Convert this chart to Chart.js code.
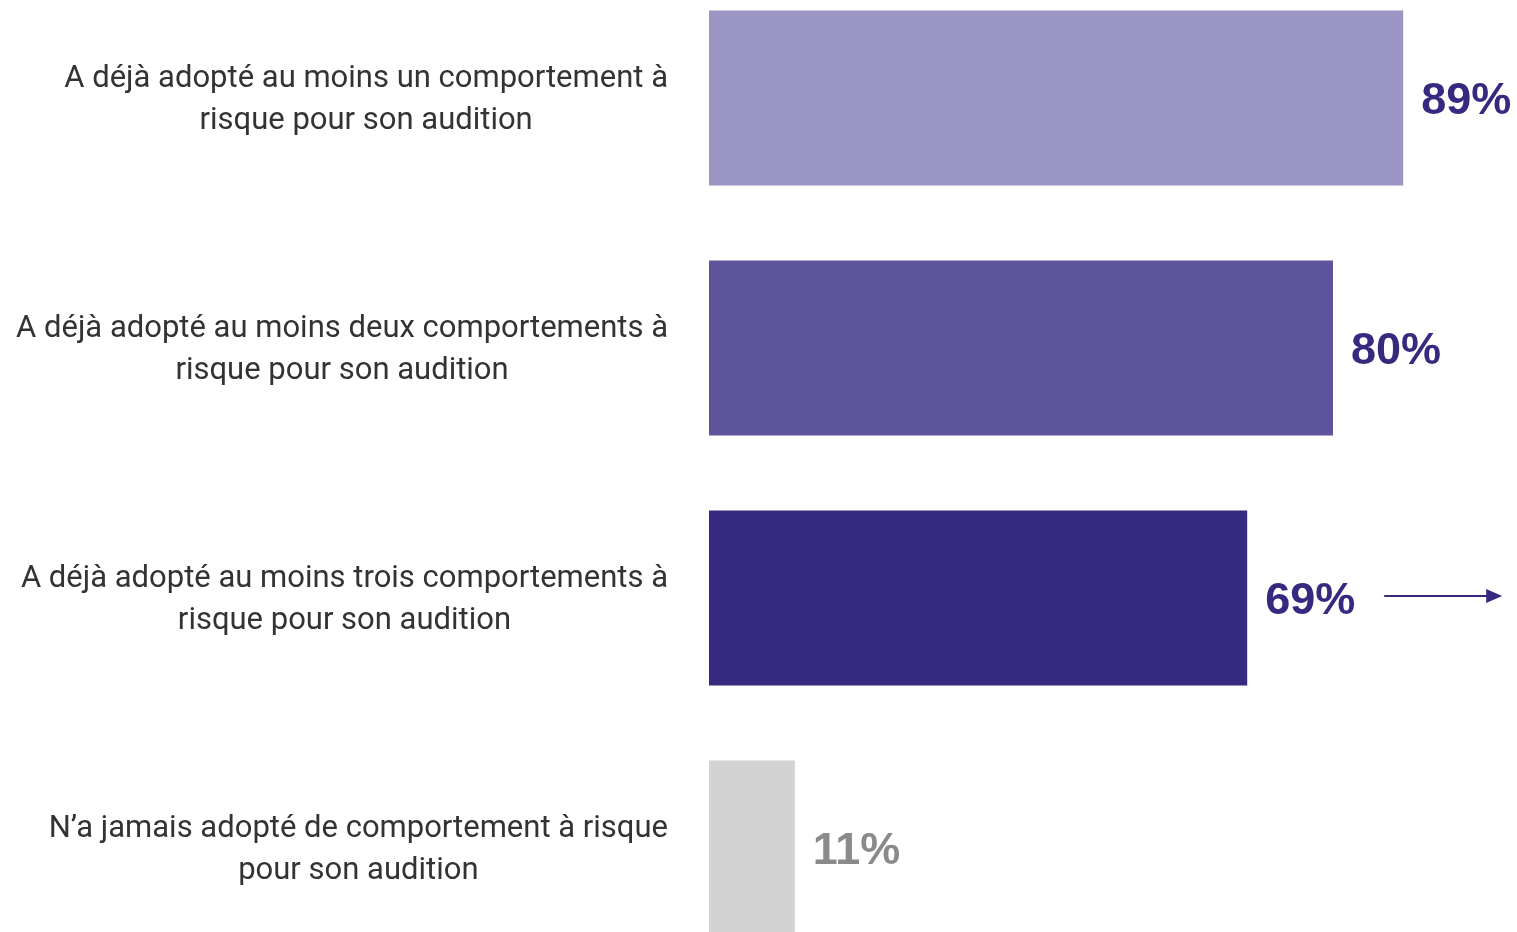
<!DOCTYPE html>
<html>
<head>
<meta charset="utf-8">
<script src="https://cdn.jsdelivr.net/npm/chart.js@4/dist/chart.umd.min.js"></script>
<style>
  html, body { margin: 0; padding: 0; background: #fff; overflow: hidden; }
  #wrap { position: absolute; left: 0; top: -27px; width: 1517px; height: 1000px; }
</style>
</head>
<body>
<div id="wrap"><canvas id="chart"></canvas></div>
<script>
const categories = [
    ['A déjà adopté au moins un comportement à', 'risque pour son audition'],
    ['A déjà adopté au moins deux comportements à', 'risque pour son audition'],
    ['A déjà adopté au moins trois comportements à', 'risque pour son audition'],
    ['N\u2019a jamais adopté de comportement à risque', 'pour son audition']
];
const values = [89, 80, 69, 11];
const barColors = ['#9b95c4', '#5d549c', '#352a80', '#d3d3d3'];
const valueColors = ['#352a80', '#352a80', '#352a80', '#8a8a8a'];

// labels on the left, drawn as centered blocks ending at the same right edge
const sideLabels = {
    id: 'sideLabels',
    afterDraw(chart) {
        const ctx = chart.ctx;
        const y = chart.scales.y;
        const x = chart.scales.x;
        ctx.save();
        ctx.font = '31px Roboto';
        ctx.fillStyle = '#333333';
        ctx.textBaseline = 'middle';
        ctx.textAlign = 'center';
        categories.forEach((lines, i) => {
            const cy = y.getPixelForValue(i) + 2;
            const w = Math.max(...lines.map(l => ctx.measureText(l).width));
            const cx = 668 - w / 2;
            lines.forEach((l, j) => {
                ctx.fillText(l, cx, cy + (j - (lines.length - 1) / 2) * 42);
            });
        });
        // values
        ctx.font = 'bold 45px "Liberation Sans"';
        ctx.textAlign = 'left';
        values.forEach((v, i) => {
            ctx.fillStyle = valueColors[i];
            ctx.fillText(v + '%', x.getPixelForValue(v) + 18, y.getPixelForValue(i) + 4);
        });
        // arrow after the 69% row
        const ay = y.getPixelForValue(2) - 2;
        const ax = x.getPixelForValue(values[2]) + 137;
        ctx.strokeStyle = '#352a80';
        ctx.fillStyle = '#352a80';
        ctx.lineWidth = 2;
        ctx.beginPath();
        ctx.moveTo(ax, ay);
        ctx.lineTo(ax + 104, ay);
        ctx.stroke();
        ctx.beginPath();
        ctx.moveTo(ax + 118, ay);
        ctx.lineTo(ax + 102, ay - 7);
        ctx.lineTo(ax + 102, ay + 7);
        ctx.closePath();
        ctx.fill();
        ctx.restore();
    }
};

new Chart(document.getElementById('chart'), {
    type: 'bar',
    data: {
        labels: categories,
        datasets: [{
            data: values,
            backgroundColor: barColors,
            borderWidth: 0,
            barPercentage: 0.7,
            categoryPercentage: 1
        }]
    },
    options: {
        indexAxis: 'y',
        responsive: true,
        maintainAspectRatio: false,
        animation: false,
        layout: { padding: { left: 709, right: 28, top: 0, bottom: 0 } },
        plugins: { legend: { display: false }, tooltip: { enabled: false } },
        scales: {
            x: { min: 0, max: 100, display: false },
            y: { display: false }
        }
    },
    plugins: [sideLabels]
});
</script>
</body>
</html>
